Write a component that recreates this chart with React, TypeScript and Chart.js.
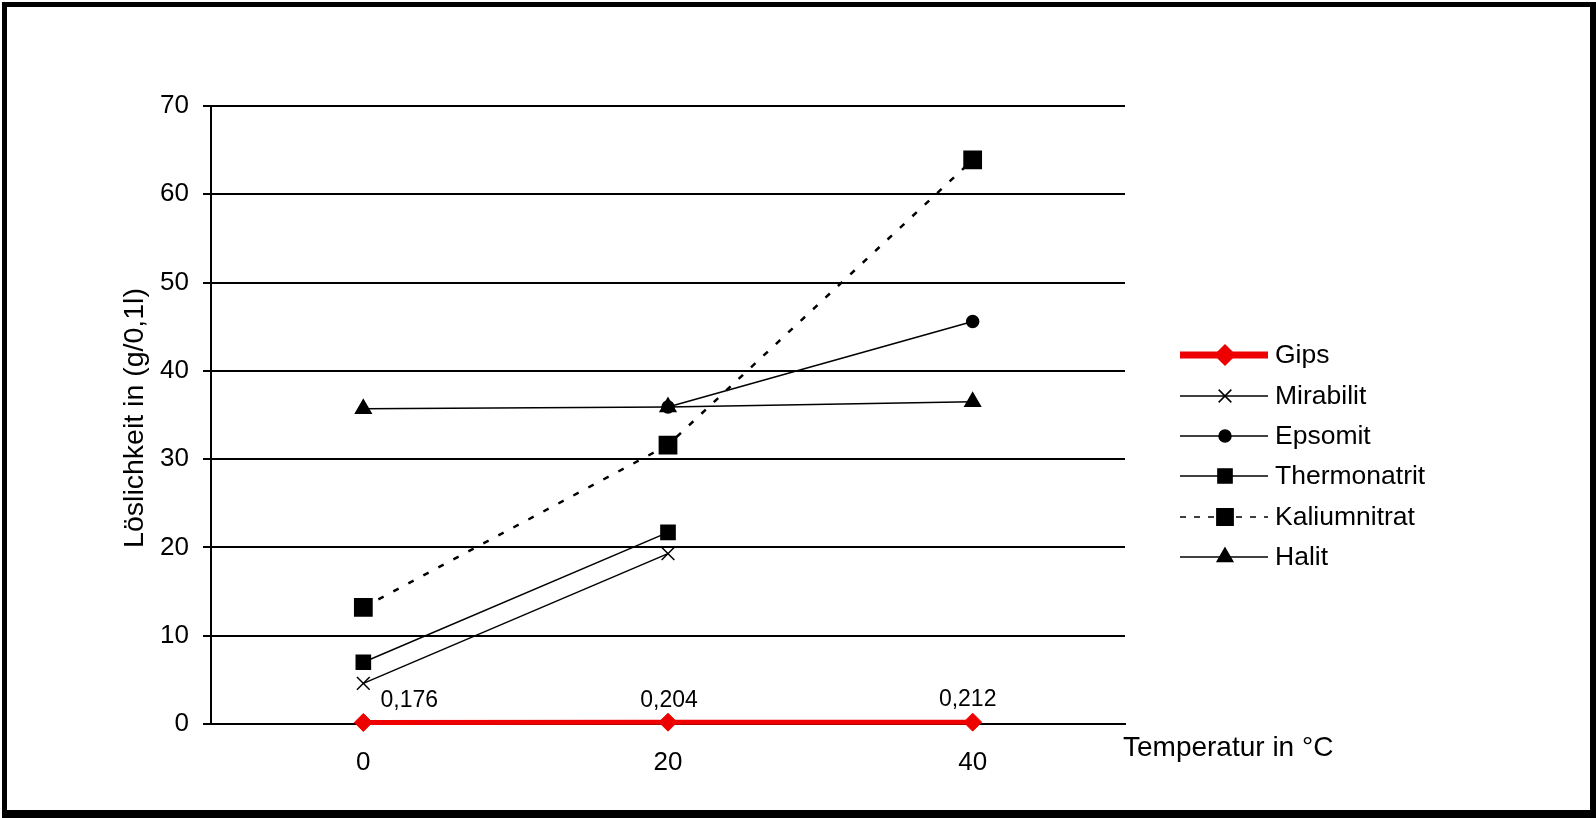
import React, { useEffect, useRef } from "react";
import { Chart, registerables } from "chart.js";
import { drawPoint } from "chart.js/helpers";

Chart.register(...registerables);

const categories = ["0", "20", "40"];
const gips = [0.176, 0.204, 0.212];
const gipsLabels = ["0,176", "0,204", "0,212"];
const mirabilit = [4.6, 19.3, null];
const epsomit = [null, 35.9, 45.6];
const thermonatrit = [7.0, 21.7, null];
const kaliumnitrat = [13.2, 31.6, 63.9];
const halit = [35.7, 35.9, 36.5];
const yTicks = [0, 10, 20, 30, 40, 50, 60, 70];

const FONT = "'Liberation Sans', Arial, sans-serif";
const RED = "#ee0000";

type LegendItem = {
  label: string;
  color: string;
  lineWidth: number;
  dash: number[];
  pointStyle: string;
  radius: number;
};

const legendItems: LegendItem[] = [
  { label: "Gips", color: RED, lineWidth: 7, dash: [], pointStyle: "rectRot", radius: 10 },
  { label: "Mirabilit", color: "#000", lineWidth: 1.5, dash: [], pointStyle: "crossRot", radius: 9 },
  { label: "Epsomit", color: "#000", lineWidth: 1.5, dash: [], pointStyle: "circle", radius: 6 },
  { label: "Thermonatrit", color: "#000", lineWidth: 1.5, dash: [], pointStyle: "rect", radius: 10 },
  { label: "Kaliumnitrat", color: "#000", lineWidth: 1.5, dash: [6, 8], pointStyle: "rect", radius: 11.5 },
  { label: "Halit", color: "#000", lineWidth: 1.5, dash: [], pointStyle: "triangle", radius: 9 },
];

const framePlugin = {
  id: "frame",
  beforeDraw(chart: any) {
    const ctx = chart.ctx;
    ctx.save();
    ctx.fillStyle = "#fff";
    ctx.fillRect(0, 0, chart.width, chart.height);
    ctx.restore();
  },
  afterDraw(chart: any) {
    const ctx = chart.ctx;
    const W = chart.width;
    const H = chart.height;
    ctx.save();
    ctx.fillStyle = "#000";
    ctx.fillRect(2, 2, W - 2, 5);
    ctx.fillRect(2, 2, 5, H - 2);
    ctx.fillRect(W - 6, 2, 6, H - 2);
    ctx.fillRect(2, H - 8, W - 2, 8);

    // axis titles
    ctx.fillStyle = "#000";
    ctx.font = `28px ${FONT}`;
    ctx.textBaseline = "middle";
    ctx.textAlign = "left";
    ctx.fillText("Temperatur in °C", chart.chartArea.right - 2, 748);
    ctx.save();
    ctx.translate(135, (chart.chartArea.top + chart.chartArea.bottom) / 2 + 3);
    ctx.rotate(-Math.PI / 2);
    ctx.textAlign = "center";
    ctx.font = `28.5px ${FONT}`;
    ctx.fillText("Löslichkeit in (g/0,1l)", 0, 0);
    ctx.restore();

    // legend
    const x0 = 1180;
    const x1 = 1268;
    const xm = 1225;
    const ys = [355, 396, 436, 476, 517, 557];
    legendItems.forEach((it, i) => {
      const y = ys[i];
      ctx.save();
      ctx.strokeStyle = it.color;
      ctx.fillStyle = it.color;
      ctx.lineWidth = it.lineWidth;
      ctx.setLineDash(it.dash);
      ctx.beginPath();
      ctx.moveTo(x0, y);
      ctx.lineTo(x1, y);
      ctx.stroke();
      ctx.setLineDash([]);
      ctx.lineWidth = 1.5;
      drawPoint(ctx, { pointStyle: it.pointStyle as any, rotation: 0, radius: it.radius, borderWidth: 1.5 }, xm, y);
      ctx.fillStyle = "#000";
      ctx.font = `26.5px ${FONT}`;
      ctx.textAlign = "left";
      ctx.textBaseline = "middle";
      ctx.fillText(it.label, 1275, y + 1);
      ctx.restore();
    });
    ctx.restore();
  },
};

const labelOffsets = [46, 1, -5];

const dataLabelPlugin = {
  id: "gipsLabels",
  afterDatasetsDraw(chart: any) {
    const meta = chart.getDatasetMeta(0);
    const ctx = chart.ctx;
    ctx.save();
    ctx.fillStyle = "#000";
    ctx.font = `23px ${FONT}`;
    ctx.textAlign = "center";
    ctx.textBaseline = "middle";
    meta.data.forEach((pt: any, i: number) => {
      ctx.fillText(gipsLabels[i], pt.x + labelOffsets[i], pt.y - 22);
    });
    ctx.restore();
  },
};

export default function App() {
  const ref = useRef<HTMLCanvasElement | null>(null);
  useEffect(() => {
    if (!ref.current) return;
    const black = "#000";
    const chart = new Chart(ref.current, {
      type: "line",
      data: {
        labels: categories,
        datasets: [
          {
            label: "Gips",
            data: gips,
            borderColor: RED,
            backgroundColor: RED,
            borderWidth: 5,
            pointStyle: "rectRot",
            pointRadius: 9,
            pointBorderWidth: 1,
            clip: false,
          },
          {
            label: "Mirabilit",
            data: mirabilit,
            borderColor: black,
            backgroundColor: black,
            borderWidth: 1.5,
            pointStyle: "crossRot",
            pointRadius: 9,
            pointBorderWidth: 1.5,
          },
          {
            label: "Epsomit",
            data: epsomit,
            borderColor: black,
            backgroundColor: black,
            borderWidth: 1.5,
            pointStyle: "circle",
            pointRadius: 6,
          },
          {
            label: "Thermonatrit",
            data: thermonatrit,
            borderColor: black,
            backgroundColor: black,
            borderWidth: 1.5,
            pointStyle: "rect",
            pointRadius: 10,
          },
          {
            label: "Kaliumnitrat",
            data: kaliumnitrat,
            borderColor: black,
            backgroundColor: black,
            borderWidth: 2.5,
            borderDash: [6, 11],
            pointStyle: "rect",
            pointRadius: 11.5,
          },
          {
            label: "Halit",
            data: halit,
            borderColor: black,
            backgroundColor: black,
            borderWidth: 1.5,
            pointStyle: "triangle",
            pointRadius: 9,
          },
        ],
      },
      options: {
        animation: false,
        responsive: false,
        devicePixelRatio: 1,
        spanGaps: false,
        layout: { padding: { left: 0, top: 106, right: 471, bottom: 0 } },
        plugins: {
          legend: { display: false },
          tooltip: { enabled: false },
          title: { display: false },
        },
        elements: { line: { tension: 0 } },
        scales: {
          x: {
            type: "category",
            offset: true,
            grid: { display: false, drawTicks: false },
            border: { display: true, color: black, width: 2 },
            ticks: { color: black, font: { family: FONT, size: 26 }, padding: 23, maxRotation: 0 },
            afterFit(scale: any) {
              scale.height = 94;
            },
          },
          y: {
            min: 0,
            max: 70,
            afterBuildTicks(scale: any) {
              scale.ticks = yTicks.map((v) => ({ value: v }));
            },
            grid: { color: black, lineWidth: 2, drawTicks: true, tickLength: 8, tickColor: black },
            border: { display: true, color: black, width: 2 },
            ticks: { color: black, font: { family: FONT, size: 26 }, padding: 14 },
            afterFit(scale: any) {
              scale.width = 211;
            },
          },
        },
      },
      plugins: [framePlugin, dataLabelPlugin],
    } as any);
    return () => chart.destroy();
  }, []);
  return (
    <div style={{ position: "fixed", left: 0, top: 0, width: 1596, height: 818, background: "#fff" }}>
      <canvas ref={ref} width={1596} height={818} style={{ display: "block" }} />
    </div>
  );
}
